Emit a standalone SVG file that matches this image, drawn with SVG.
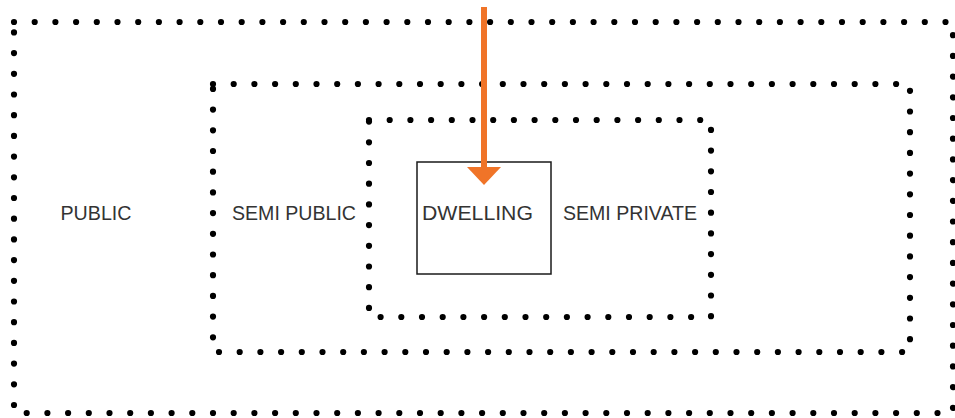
<svg xmlns="http://www.w3.org/2000/svg" width="955" height="418" viewBox="0 0 955 418">
  <style>
    .zone { fill: none; stroke: #000; stroke-width: 6.2; stroke-linecap: round; stroke-dasharray: 0 20.7; }
    .lbl { font-family: "Liberation Sans", Arial, sans-serif; font-size: 21px; fill: #333; }
    .box { fill: #fff; stroke: #1a1a1a; stroke-width: 1.5; }
  </style>
  <rect width="955" height="418" fill="#fff"/>
  <g id="public">
    <rect class="zone" x="14" y="22" width="939" height="391"/>
    <text class="lbl" x="60.5" y="219.5" textLength="71" lengthAdjust="spacingAndGlyphs">PUBLIC</text>
  </g>
  <g id="semi-public">
    <rect class="zone" x="213" y="84" width="697" height="268"/>
    <text class="lbl" x="232" y="219.5" textLength="124" lengthAdjust="spacingAndGlyphs">SEMI PUBLIC</text>
  </g>
  <g id="semi-private">
    <rect class="zone" x="369" y="120" width="342" height="197"/>
    <text class="lbl" x="563" y="219.5" textLength="134" lengthAdjust="spacingAndGlyphs">SEMI PRIVATE</text>
  </g>
  <g id="dwelling">
    <rect class="box" x="417" y="162" width="134" height="112"/>
    <text class="lbl" x="422" y="220" textLength="111" lengthAdjust="spacingAndGlyphs">DWELLING</text>
  </g>
  <g id="connectors">
    <line x1="484" y1="7" x2="484" y2="168" stroke="#F07428" stroke-width="6"/>
    <polygon points="467,167 501,167 484,185" fill="#F07428"/>
  </g>
</svg>
